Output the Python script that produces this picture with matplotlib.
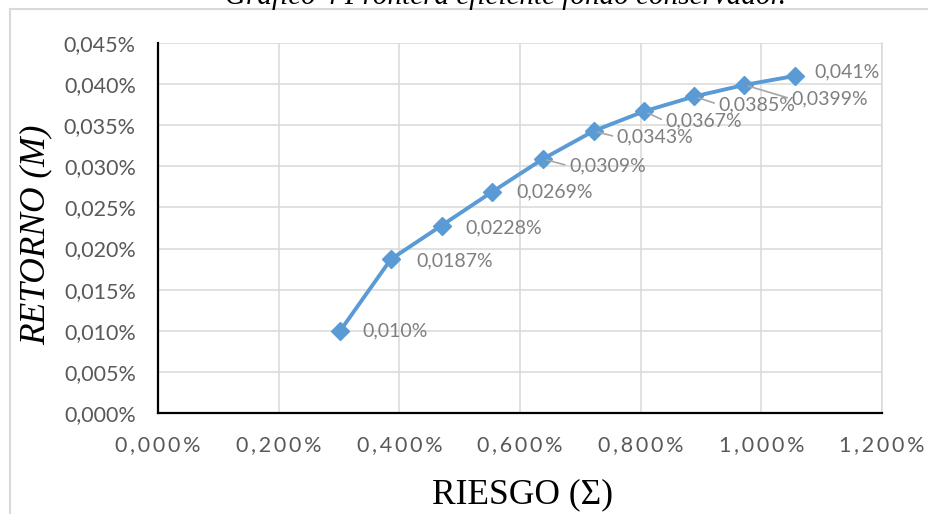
import matplotlib.pyplot as plt
from matplotlib.lines import Line2D
from matplotlib.ticker import FuncFormatter

# frontera eficiente: riesgo (%) vs retorno (%)
riesgo = [0.302, 0.386, 0.470, 0.554, 0.638, 0.722, 0.806, 0.889, 0.972, 1.056]
retorno = [0.010, 0.0187, 0.0228, 0.0269, 0.0309, 0.0343, 0.0367, 0.0385, 0.0399, 0.041]
etiquetas = ['0,010%', '0,0187%', '0,0228%', '0,0269%', '0,0309%',
             '0,0343%', '0,0367%', '0,0385%', '0,0399%', '0,041%']
# desplazamiento de cada etiqueta (px) y si lleva linea guia
offsets = [(22, 0), (25, -2), (24, -2), (24, 0), (26, -7),
           (23, -6), (21, -10), (24, -8), (47, -14), (19, 4)]
guias = [False, False, False, False, True, True, True, True, True, False]

AZUL = '#5b9bd5'
GRIS = '#d9d9d9'

plt.rcParams['font.family'] = ['Lato', 'DejaVu Sans']

fig = plt.figure(figsize=(9.29, 5.14), dpi=100)
ax = fig.add_axes([158 / 929, 1 - 413 / 514, (882 - 158) / 929, (413 - 43) / 514])

ax.plot(riesgo, retorno, color=AZUL, lw=2.8, marker='D', markersize=9,
        markeredgecolor=AZUL, zorder=3, clip_on=False)

px = 0.72  # pixel -> points
for x, y, txt, (dx, dy), guia in zip(riesgo, retorno, etiquetas, offsets, guias):
    arrow = None
    if guia:
        arrow = dict(arrowstyle='-', color='#a6a6a6', lw=1.2, shrinkA=1, shrinkB=3,
                     relpos=(0, 0.5))
    ax.annotate(txt, (x, y), xytext=(dx * px, dy * px), textcoords='offset points',
                ha='left', va='center', fontsize=14, color='#7f7f7f',
                arrowprops=arrow, zorder=4)

ax.set_xlim(0, 1.2)
ax.set_ylim(0, 0.045)
ax.set_xticks([0, 0.2, 0.4, 0.6, 0.8, 1.0, 1.2])
ax.set_yticks([i * 0.005 for i in range(10)])


def fmt_x(v, pos):
    s = f'{v:.3f}%'.replace('.', ',')
    return '\u2009'.join(s)


ax.xaxis.set_major_formatter(FuncFormatter(fmt_x))
ax.yaxis.set_major_formatter(FuncFormatter(lambda v, p: f'{v:.3f}%'.replace('.', ',')))
ax.tick_params(length=0, labelsize=15.5, labelcolor='#595959')
ax.tick_params(axis='x', pad=16)
ax.tick_params(axis='y', pad=16)

ax.grid(True, color=GRIS, lw=1.1)
ax.set_axisbelow(True)
for s in ('left', 'bottom'):
    ax.spines[s].set_color('black')
    ax.spines[s].set_linewidth(1.6)
    ax.spines[s].set_zorder(5)
ax.spines['top'].set_visible(False)
ax.spines['right'].set_color(GRIS)
ax.spines['right'].set_linewidth(1.1)

fig.text(36 / 929, 1 - 235 / 514, 'RETORNO (M)', rotation=90, ha='center', va='center',
         family='Liberation Serif', style='italic', fontsize=25.5)
fig.text(522 / 929, 1 - 495 / 514, 'RIESGO (Σ)', ha='center', va='center',
         family='Liberation Serif', fontsize=25.5)
fig.text(506 / 929, 1 - 4 / 514, 'Gráfico 4 Frontera eficiente fondo conservador.',
         ha='center', va='baseline', family='Liberation Serif', style='italic',
         fontsize=21)

# marco del grafico
fig.add_artist(Line2D([10 / 929, 1], [1 - 9 / 514, 1 - 9 / 514], color=GRIS, lw=1.5))
fig.add_artist(Line2D([10 / 929, 10 / 929], [0, 1 - 9 / 514], color=GRIS, lw=1.5))

fig.savefig('out.png', dpi=100)
